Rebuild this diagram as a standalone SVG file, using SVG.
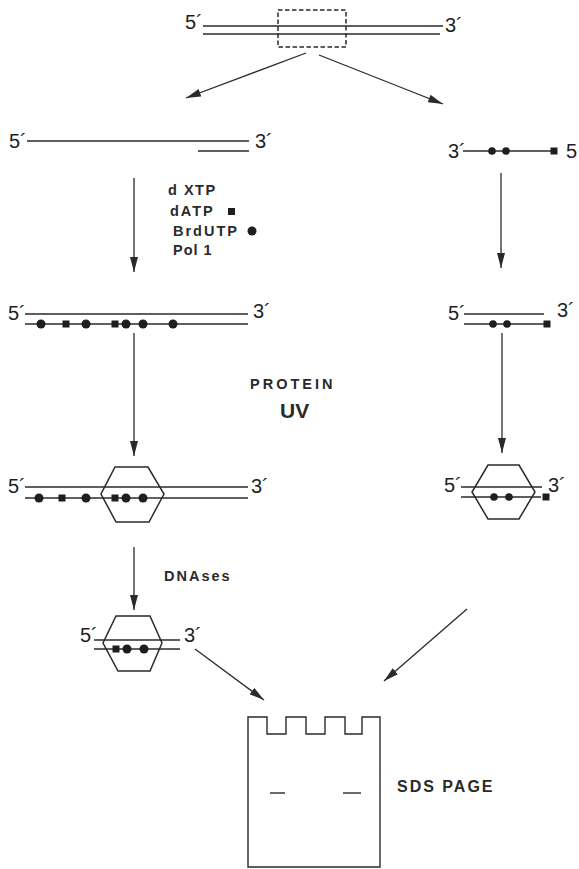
<svg xmlns="http://www.w3.org/2000/svg" width="579" height="869" viewBox="0 0 579 869">
  <style>
    .bg { fill: #ffffff; }
    .strand { stroke: #2a2a2a; stroke-width: 1.4; fill: none; }
    .arrow { stroke: #2a2a2a; stroke-width: 1.3; fill: none; marker-end: url(#head); }
    .hex { stroke: #2a2a2a; stroke-width: 1.5; fill: none; }
    .dash { stroke: #2a2a2a; stroke-width: 1.5; fill: none; stroke-dasharray: 4.5 2.5; }
    .dot { fill: #1e1e1e; }
    .end { font-family: "Liberation Sans", Arial, sans-serif; font-size: 20px; fill: #1e1e1e; }
    .lab { font-family: "Liberation Sans", Arial, sans-serif; font-size: 14.5px; font-weight: bold; fill: #2a2a2a; letter-spacing: 2px; }
  </style>
  <defs>
    <marker id="head" viewBox="0 0 15 8" refX="15" refY="4" markerWidth="15" markerHeight="8" markerUnits="userSpaceOnUse" orient="auto">
      <path d="M0,0 L15,4 L0,8 Z" fill="#2a2a2a"/>
    </marker>
  </defs>
  <rect class="bg" x="0" y="0" width="579" height="869"/>

  <!-- starting duplex with the excised region -->
  <g id="duplex">
    <line class="strand" x1="203" y1="26" x2="443" y2="26"/>
    <line class="strand" x1="203" y1="34" x2="440" y2="34"/>
    <rect class="dash" x="278" y="10" width="68" height="37"/>
    <text class="end" x="185" y="29">5´</text>
    <text class="end" x="445" y="32">3´</text>
  </g>

  <!-- left branch: template with primer -->
  <g id="primed-template">
    <line class="strand" x1="27" y1="141" x2="249" y2="141"/>
    <line class="strand" x1="198" y1="151" x2="249" y2="151"/>
    <text class="end" x="9" y="148">5´</text>
    <text class="end" x="255" y="148">3´</text>
  </g>

  <!-- right branch: labelled oligo -->
  <g id="oligo">
    <line class="strand" x1="463" y1="151" x2="553" y2="151"/>
    <circle class="dot" cx="492" cy="151" r="3.8"/>
    <circle class="dot" cx="506" cy="151" r="3.8"/>
    <rect class="dot" x="550.5" y="147.5" width="7" height="7"/>
    <text class="end" x="448" y="158">3´</text>
    <text class="end" x="566" y="158">5</text>
  </g>

  <!-- reagents -->
  <g id="reagents">
    <text class="lab" x="168" y="195" style="letter-spacing:1.5px">d XTP</text>
    <text class="lab" x="170" y="216">dATP</text>
    <rect class="dot" x="228" y="208" width="7" height="7"/>
    <text class="lab" x="173" y="236">BrdUTP</text>
    <circle class="dot" cx="252" cy="231" r="4.5"/>
    <text class="lab" x="173" y="255" style="letter-spacing:1px">Pol 1</text>
  </g>

  <!-- left: filled-in labelled duplex -->
  <g id="labelled-duplex">
    <line class="strand" x1="25" y1="314" x2="248" y2="314"/>
    <line class="strand" x1="25" y1="324" x2="248" y2="324"/>
    <circle class="dot" cx="41" cy="324" r="4.5"/>
    <rect class="dot" x="62.5" y="320.5" width="7" height="7"/>
    <circle class="dot" cx="86" cy="324" r="4.5"/>
    <rect class="dot" x="111.5" y="320.5" width="7" height="7"/>
    <circle class="dot" cx="126" cy="324" r="4.5"/>
    <circle class="dot" cx="143" cy="324" r="4.5"/>
    <circle class="dot" cx="173" cy="324" r="4.5"/>
    <text class="end" x="8" y="320">5´</text>
    <text class="end" x="253" y="318">3´</text>
  </g>

  <!-- right: annealed oligo duplex -->
  <g id="oligo-duplex">
    <line class="strand" x1="464" y1="314" x2="544" y2="314"/>
    <line class="strand" x1="464" y1="324" x2="545" y2="324"/>
    <circle class="dot" cx="493" cy="324" r="3.8"/>
    <circle class="dot" cx="507" cy="324" r="3.8"/>
    <rect class="dot" x="543.5" y="320.5" width="7" height="7"/>
    <text class="end" x="448" y="320">5´</text>
    <text class="end" x="557" y="317">3´</text>
  </g>

  <!-- crosslinking step -->
  <g id="crosslink">
    <text class="lab" x="250" y="389" style="letter-spacing:3px">PROTEIN</text>
    <text class="lab" x="280" y="418" style="font-size:21px;letter-spacing:0px">UV</text>
  </g>

  <!-- left: protein bound to labelled duplex -->
  <g id="complex-left">
    <line class="strand" x1="25" y1="487" x2="248" y2="487"/>
    <line class="strand" x1="25" y1="498" x2="248" y2="498"/>
    <polygon class="hex" points="115,467 148,467 164,494 149,522 116,522 101,494"/>
    <circle class="dot" cx="39" cy="498" r="4.5"/>
    <rect class="dot" x="58.5" y="494.5" width="7" height="7"/>
    <circle class="dot" cx="86" cy="498" r="4.5"/>
    <rect class="dot" x="111.5" y="494.5" width="7" height="7"/>
    <circle class="dot" cx="126" cy="498" r="4.5"/>
    <circle class="dot" cx="143" cy="498" r="4.5"/>
    <text class="end" x="8" y="493">5´</text>
    <text class="end" x="251" y="493">3´</text>
  </g>

  <!-- right: protein bound to oligo duplex -->
  <g id="complex-right">
    <line class="strand" x1="461" y1="487" x2="542" y2="487"/>
    <line class="strand" x1="461" y1="497" x2="541" y2="497"/>
    <polygon class="hex" points="488,465 519,465 535,492 519,519 488,519 472,492"/>
    <circle class="dot" cx="494" cy="497" r="3.8"/>
    <circle class="dot" cx="509" cy="497" r="3.8"/>
    <rect class="dot" x="542.5" y="493.5" width="7" height="7"/>
    <text class="end" x="444" y="492">5´</text>
    <text class="end" x="548" y="492">3´</text>
  </g>

  <!-- nuclease step -->
  <g id="nuclease">
    <text class="lab" x="164" y="581">DNAses</text>
  </g>

  <!-- trimmed complex -->
  <g id="trimmed">
    <line class="strand" x1="94" y1="640" x2="180" y2="640"/>
    <line class="strand" x1="94" y1="649" x2="180" y2="649"/>
    <polygon class="hex" points="116,616 150,616 162,643 150,671 118,671 103,643"/>
    <rect class="dot" x="112.5" y="645.5" width="7" height="7"/>
    <circle class="dot" cx="127" cy="649" r="4.5"/>
    <circle class="dot" cx="144" cy="649" r="4.5"/>
    <text class="end" x="80" y="642">5´</text>
    <text class="end" x="184" y="642">3´</text>
  </g>

  <!-- gel -->
  <g id="gel">
    <path class="strand" d="M248,867 V717 H267 V734 H286 V717 H306 V734 H325 V717 H345 V734 H362 V717 H380 V867 Z"/>
    <line class="strand" x1="270" y1="793" x2="285" y2="793"/>
    <line class="strand" x1="343" y1="793" x2="361" y2="793"/>
    <text class="lab" x="397" y="792" style="font-size:16px;letter-spacing:2px">SDS PAGE</text>
  </g>

  <!-- connectors -->
  <g id="connectors">
    <line class="arrow" x1="306" y1="53" x2="186" y2="98"/>
    <line class="arrow" x1="319" y1="55" x2="443" y2="104"/>
    <line class="arrow" x1="134" y1="178" x2="134" y2="272"/>
    <line class="arrow" x1="501" y1="173" x2="501" y2="268"/>
    <line class="arrow" x1="134" y1="333" x2="134" y2="456"/>
    <line class="arrow" x1="502" y1="333" x2="502" y2="453"/>
    <line class="arrow" x1="134" y1="547" x2="134" y2="610"/>
    <line class="arrow" x1="195" y1="649" x2="264" y2="700"/>
    <line class="arrow" x1="467" y1="609" x2="384" y2="681"/>
  </g>
</svg>
